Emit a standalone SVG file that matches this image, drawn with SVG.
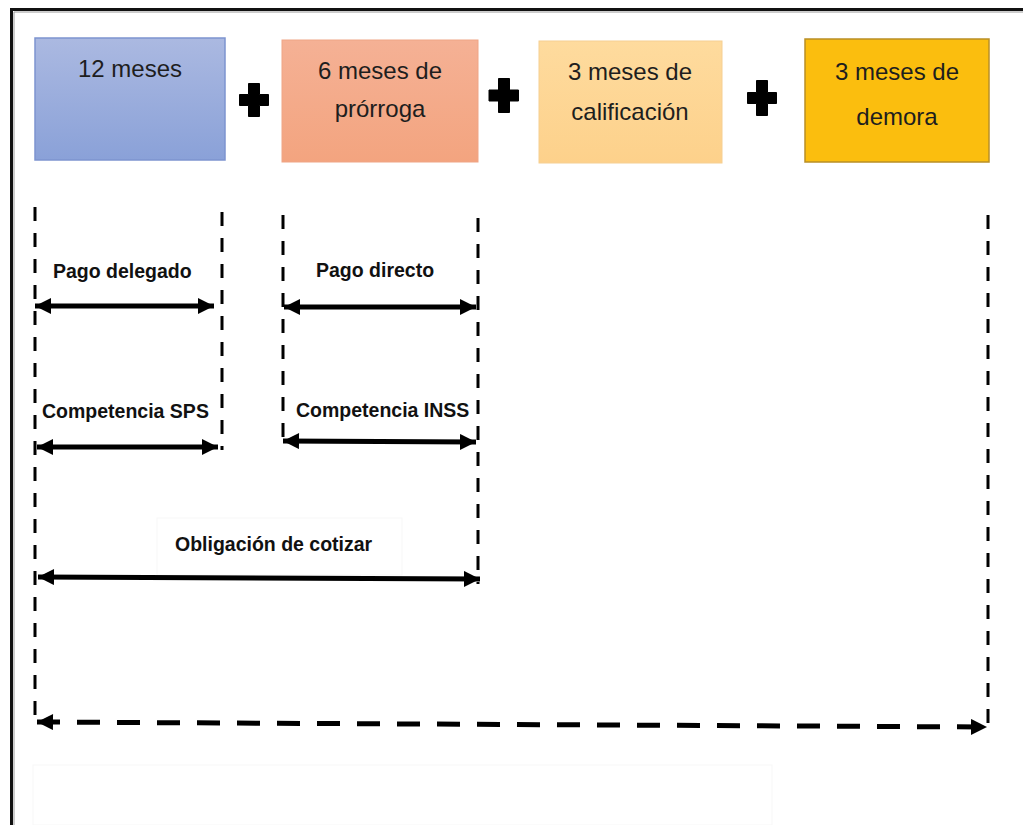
<svg xmlns="http://www.w3.org/2000/svg" width="1023" height="825" viewBox="0 0 1023 825">
  <style>
    .box-label { font-family: "Liberation Sans", Arial, sans-serif; font-size: 24px; fill: #1e1e1e; text-anchor: middle; }
    .span-label { font-family: "Liberation Sans", Arial, sans-serif; font-size: 19.5px; font-weight: bold; fill: #111; }
    .guide { stroke: #000; stroke-width: 3; stroke-dasharray: 14 12; fill: none; }
    .span { stroke: #000; stroke-width: 5; fill: none; marker-start: url(#head-start); marker-end: url(#head-end); }
    .span-total { stroke: #000; stroke-width: 5; stroke-dasharray: 23 17; fill: none; marker-start: url(#head-start); marker-end: url(#head-end); }
    .plus { fill: #000; stroke: #000; stroke-width: 1; stroke-linejoin: round; }
    .ghost { fill: none; stroke: #f7f7f7; stroke-width: 1; }
  </style>
  <defs>
    <linearGradient id="g-blue" x1="0" y1="0" x2="0" y2="1">
      <stop offset="0" stop-color="#abb9e1"/>
      <stop offset="1" stop-color="#8aa1d8"/>
    </linearGradient>
    <linearGradient id="g-salmon" x1="0" y1="0" x2="0" y2="1">
      <stop offset="0" stop-color="#f5b195"/>
      <stop offset="1" stop-color="#f3a47f"/>
    </linearGradient>
    <linearGradient id="g-sand" x1="0" y1="0" x2="0" y2="1">
      <stop offset="0" stop-color="#fedb9e"/>
      <stop offset="1" stop-color="#fdd18b"/>
    </linearGradient>
    <marker id="head-end" markerUnits="userSpaceOnUse" markerWidth="18" markerHeight="16" refX="16" refY="8" orient="auto">
      <path d="M0,0 L16,8 L0,16 Z" fill="#000"/>
    </marker>
    <marker id="head-start" markerUnits="userSpaceOnUse" markerWidth="18" markerHeight="16" refX="0" refY="8" orient="auto">
      <path d="M16,0 L0,8 L16,16 Z" fill="#000"/>
    </marker>
  </defs>

  <rect width="1023" height="825" fill="#fff"/>

  <!-- frame -->
  <g id="frame">
    <path d="M11.5,825 L11.5,9.5 L1023,9.5" fill="none" stroke="#111" stroke-width="3"/>
    <path d="M14,825 L14,12 L1023,12" fill="none" stroke="#9a9a9a" stroke-width="1"/>
  </g>

  <!-- period boxes -->
  <g id="box-12">
    <rect x="35" y="38" width="190" height="122" fill="url(#g-blue)" stroke="#7d94cf" stroke-width="1.5"/>
    <text class="box-label" x="130" y="77">12 meses</text>
  </g>
  <g id="box-6">
    <rect x="282" y="40" width="196" height="122" fill="url(#g-salmon)" stroke="#efa586" stroke-width="1"/>
    <text class="box-label" x="380" y="79">6 meses de</text>
    <text class="box-label" x="380" y="117">prórroga</text>
  </g>
  <g id="box-3a">
    <rect x="539" y="41" width="183" height="122" fill="url(#g-sand)" stroke="#f6cf92" stroke-width="1"/>
    <text class="box-label" x="630" y="80">3 meses de</text>
    <text class="box-label" x="630" y="120">calificación</text>
  </g>
  <g id="box-3b">
    <rect x="805" y="39" width="184" height="123" fill="#fbbe0e" stroke="#b98f26" stroke-width="1.5"/>
    <text class="box-label" x="897" y="80">3 meses de</text>
    <text class="box-label" x="897" y="125">demora</text>
  </g>

  <!-- plus signs -->
  <g id="plus-signs">
    <path class="plus" d="M248.5,83.5 h11 v11 h9 v11 h-9 v11 h-11 v-11 h-9 v-11 h9 Z"/>
    <path class="plus" d="M498.5,78.5 h11 v11.5 h9 v11 h-9 v11.5 h-11 v-11.5 h-9.5 v-11 h9.5 Z"/>
    <path class="plus" d="M756.5,80.5 h11 v12 h9 v11 h-9 v12 h-11 v-12 h-9 v-11 h9 Z"/>
  </g>

  <!-- faint text frames -->
  <g id="text-frames">
    <rect class="ghost" x="157" y="518" width="245" height="57"/>
    <rect class="ghost" x="33" y="765" width="739" height="60"/>
  </g>

  <!-- guide lines and spans -->
  <g id="connectors">
    <line class="guide" x1="35" y1="207" x2="35" y2="723"/>
    <line class="guide" x1="222" y1="212" x2="222" y2="450"/>
    <line class="guide" x1="283" y1="215" x2="283" y2="444"/>
    <line class="guide" x1="478" y1="218" x2="478" y2="584"/>
    <line class="guide" x1="988" y1="215" x2="988" y2="735"/>

    <line class="span" x1="35" y1="306" x2="214" y2="306"/>
    <line class="span" x1="284" y1="307" x2="476" y2="307"/>
    <line class="span" x1="37" y1="447" x2="218" y2="447"/>
    <line class="span" x1="283" y1="441" x2="476" y2="442"/>
    <line class="span" x1="38" y1="577" x2="480" y2="579"/>
    <line class="span-total" x1="37" y1="722" x2="987" y2="727"/>
  </g>

  <!-- span labels -->
  <g id="labels">
    <text class="span-label" x="53" y="278">Pago delegado</text>
    <text class="span-label" x="316" y="277">Pago directo</text>
    <text class="span-label" x="42" y="418">Competencia SPS</text>
    <text class="span-label" x="296" y="417">Competencia INSS</text>
    <text class="span-label" x="175" y="551">Obligación de cotizar</text>
  </g>
</svg>
